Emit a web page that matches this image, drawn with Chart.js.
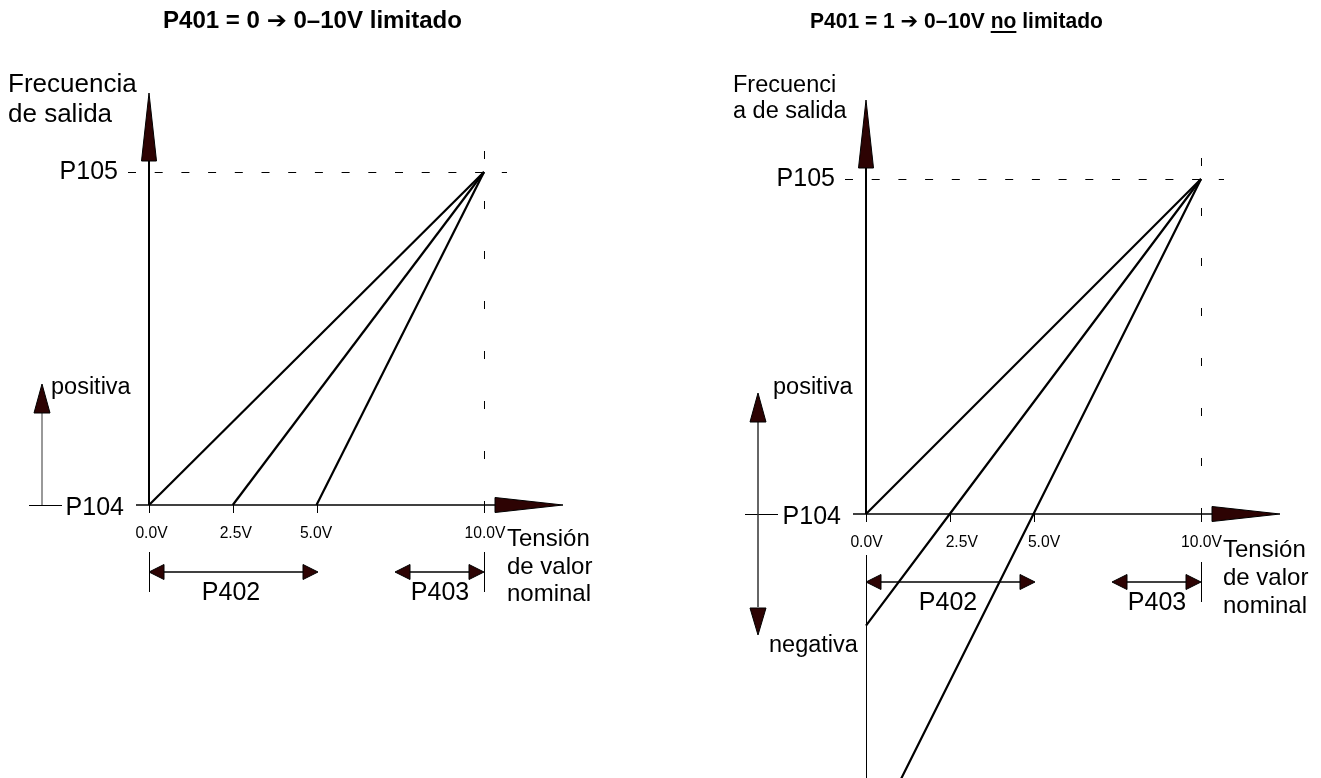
<!DOCTYPE html>
<html>
<head>
<meta charset="utf-8">
<title>P401 – curvas de consigna 0–10V</title>
<script src="https://cdn.jsdelivr.net/npm/chart.js@4.4.1/dist/chart.umd.min.js"></script>
<style>
  html, body { margin: 0; padding: 0; background: #fff; }
  #wrap { position: relative; width: 1321px; height: 778px; overflow: hidden; background: #fff; }
  canvas { position: absolute; top: 0; }
  #left { left: 0; }
  #right { left: 660px; }
</style>
</head>
<body>
<div id="wrap">
  <canvas id="left" width="660" height="778"></canvas>
  <canvas id="right" width="661" height="778"></canvas>
</div>
<script>
// ---- values ---------------------------------------------------------------
// Set-point voltage ticks (V) and their captions
const tickVolts = [0, 2.5, 5, 10];
const tickLabels = ['0.0V', '2.5V', '5.0V', '10.0V'];

// Output frequency levels (% of the P104 → P105 span) and their names
const freqLevels = [0, 100];
const freqLabels = ['P104', 'P105'];

// P401 = 0: offset curves clamped at P104
const limitedZero    = [{ x: 0,   y: 0 }, { x: 10, y: 100 }];
const limitedQuarter = [{ x: 2.5, y: 0 }, { x: 10, y: 100 }];
const limitedHalf    = [{ x: 5,   y: 0 }, { x: 10, y: 100 }];

// P401 = 1: the same curves continue below P104 (negative direction)
const unlimitedZero    = [{ x: 0, y: 0 },     { x: 10, y: 100 }];
const unlimitedQuarter = [{ x: 0, y: -33.3 }, { x: 2.5, y: 0 }, { x: 10, y: 100 }];
const unlimitedHalf    = [{ x: 0, y: -100 },  { x: 5, y: 0 },   { x: 10, y: 100 }];

// Text
const titleLimited   = ['P401 = 0 \u2794 0\u201310V limitado'];
const titleUnlimited = ['P401 = 1 \u2794 0\u201310V ', 'no', ' limitado'];
const freqAxisLimited   = ['Frecuencia', 'de salida'];
const freqAxisUnlimited = ['Frecuenci', 'a de salida'];
const voltAxisLines = ['Tensi\u00f3n', 'de valor', 'nominal'];
const offsetName = 'P402';
const gainName = 'P403';

// ---- drawing helpers ------------------------------------------------------
const FONT = "'Liberation Sans', Arial, Helvetica, 'DejaVu Sans', sans-serif";
const HEAD_FILL = '#2d0303';

function seg(ctx, x1, y1, x2, y2, w, color, dash) {
  ctx.save();
  ctx.beginPath();
  ctx.setLineDash(dash || []);
  ctx.lineWidth = w;
  ctx.strokeStyle = color || '#000';
  ctx.moveTo(x1, y1);
  ctx.lineTo(x2, y2);
  ctx.stroke();
  ctx.restore();
}

function head(ctx, tipX, tipY, baseX, baseY, halfW) {
  const dx = tipX - baseX, dy = tipY - baseY;
  const len = Math.hypot(dx, dy);
  const nx = -dy / len, ny = dx / len;
  ctx.save();
  ctx.beginPath();
  ctx.moveTo(tipX, tipY);
  ctx.lineTo(baseX + nx * halfW, baseY + ny * halfW);
  ctx.lineTo(baseX - nx * halfW, baseY - ny * halfW);
  ctx.closePath();
  ctx.fillStyle = HEAD_FILL;
  ctx.fill();
  ctx.lineWidth = 1;
  ctx.strokeStyle = '#000';
  ctx.stroke();
  ctx.restore();
}

function text(ctx, str, x, y, size, align, bold) {
  ctx.save();
  ctx.font = (bold ? 'bold ' : '') + size + 'px ' + FONT;
  ctx.fillStyle = '#000';
  ctx.textAlign = align || 'left';
  ctx.textBaseline = 'alphabetic';
  ctx.fillText(str, x, y);
  ctx.restore();
}

// Horizontal double-headed dimension arrow
function span(ctx, xa, xb, y) {
  seg(ctx, xa + 14, y, xb - 14, y, 1.5);
  head(ctx, xa, y, xa + 15, y, 7.5);
  head(ctx, xb, y, xb - 15, y, 7.5);
}

// Pick axis bounds so that two values land on two given pixels
function boundsX(p0, p10, width) {
  const k = (p10 - p0) / (tickVolts[3] - tickVolts[0]);
  const min = tickVolts[0] - p0 / k;
  return { min, max: min + width / k };
}
function boundsY(p0, p100, height) {
  const k = (p0 - p100) / (freqLevels[1] - freqLevels[0]);
  const max = freqLevels[0] + p0 / k;
  return { min: max - height / k, max };
}

// ---- the diagram layer drawn around the data lines -------------------------
function diagramLayer(cfg) {
  return {
    id: 'diagram',
    beforeDatasetsDraw(chart) {
      const ctx = chart.ctx, xs = chart.scales.x, ys = chart.scales.y;
      const X0 = xs.getPixelForValue(tickVolts[0]);
      const X10 = xs.getPixelForValue(tickVolts[3]);
      const Y0 = ys.getPixelForValue(freqLevels[0]);
      const Y100 = ys.getPixelForValue(freqLevels[1]);

      // P105 and 10V guide lines
      seg(ctx, X0 - 21, Y100 + 0.5, X10 + 23, Y100 + 0.5, 1, '#000', [8, 18.7]);
      seg(ctx, X10 + 0.5, Y100 - 21, X10 + 0.5, Y0 + 25, 1, '#000', [8, 42]);

      // frequency axis
      seg(ctx, X0, Y0, X0, Y100 - 11, 2);
      head(ctx, X0, Y100 - 79, X0, Y100 - 11, 7.5);
      // voltage axis
      seg(ctx, X0 - 13, Y0, X10 + 11, Y0, 1.5);
      head(ctx, X10 + 79, Y0, X10 + 11, Y0, 7.5);

      // ticks
      tickVolts.forEach(v => {
        const px = Math.round(xs.getPixelForValue(v)) + 0.5;
        seg(ctx, px, Y0, px, Y0 + 8, 1);
      });
    },
    afterDatasetsDraw(chart) {
      const ctx = chart.ctx, xs = chart.scales.x, ys = chart.scales.y;
      const X0 = xs.getPixelForValue(tickVolts[0]);
      const X10 = xs.getPixelForValue(tickVolts[3]);
      const Y0 = ys.getPixelForValue(freqLevels[0]);
      const Y100 = ys.getPixelForValue(freqLevels[1]);
      const H = chart.height;

      // title: fitted to its set width, half by size and half by squeeze
      ctx.save();
      ctx.font = 'bold 22px ' + FONT;
      const parts = cfg.title;
      const natural = parts.reduce((a, p) => a + ctx.measureText(p).width, 0);
      const k = Math.sqrt(cfg.titleWidth / natural);
      const size = 22 * k;
      ctx.font = 'bold ' + size + 'px ' + FONT;
      const widths = parts.map(p => ctx.measureText(p).width);
      ctx.translate(cfg.titleX - cfg.titleWidth / 2, 0);
      ctx.scale(k, 1);
      let tx = 0;
      parts.forEach((p, i) => {
        text(ctx, p, tx, 28, size, 'left', true);
        if (i === cfg.underline) seg(ctx, tx, 32, tx + widths[i], 32, 2);
        tx += widths[i];
      });
      ctx.restore();

      // frequency axis caption
      cfg.freqAxis.forEach((s, i) => text(ctx, s, X0 + cfg.freqAxisDx, cfg.freqAxisY[i], cfg.freqAxisSize, 'left'));

      // level names
      text(ctx, freqLabels[1], X0 - 31, Y100 + 7, 25, 'right');
      text(ctx, freqLabels[0], X0 - 25, Y0 + 9.5, 25, 'right');

      // tick captions
      tickLabels.forEach((s, i) => {
        ctx.save();
        ctx.font = '16.5px ' + FONT;
        ctx.textAlign = 'center';
        ctx.fillStyle = '#000';
        ctx.translate(xs.getPixelForValue(tickVolts[i]) + cfg.tickDx[i], Y0 + 33);
        ctx.scale(0.95, 1);
        ctx.fillText(s, 0, 0);
        ctx.restore();
      });

      // voltage axis caption
      voltAxisLines.forEach((s, i) => text(ctx, s, X10 + cfg.voltAxisDx, Y0 + cfg.voltAxisDy + i * cfg.voltAxisLh, 24, 'left'));

      // sign of the output
      const ax = X0 + cfg.signDx;
      seg(ctx, X0 + cfg.levelLine[0], Y0 + 0.5, X0 + cfg.levelLine[1], Y0 + 0.5, 1);
      text(ctx, 'positiva', X0 + cfg.posDx, cfg.posY, 23.5, 'left');
      if (cfg.negY) {
        seg(ctx, ax, cfg.signTop + 28, ax, cfg.signBottom - 28, 1.5, '#333');
        head(ctx, ax, cfg.signTop, ax, cfg.signTop + 29, 8);
        head(ctx, ax, cfg.signBottom, ax, cfg.signBottom - 27, 8);
        text(ctx, 'negativa', X0 + cfg.negDx, cfg.negY, 23.5, 'left');
      } else {
        seg(ctx, ax, cfg.signTop + 28, ax, Y0, 1.5, '#777');
        head(ctx, ax, cfg.signTop, ax, cfg.signTop + 29, 8);
      }

      // P402 / P403 dimensions
      const ay = Y0 + cfg.spanDy;
      const x0l = Math.round(X0) + 0.5, x10l = Math.round(X10) + 0.5;
      seg(ctx, x0l, Y0 + cfg.bound0[0], x0l, cfg.bound0[1] ? Y0 + cfg.bound0[1] : H, 1);
      seg(ctx, x10l, Y0 + cfg.bound10[0], x10l, Y0 + cfg.bound10[1], 1);
      span(ctx, X0, X0 + 169, ay);
      span(ctx, X10 - 89, X10, ay);
      text(ctx, offsetName, X0 + 82, Y0 + cfg.nameDy, 25, 'center');
      text(ctx, gainName, X10 - 44, Y0 + cfg.nameDy, 25, 'center');
    }
  };
}

function makeChart(id, cfg, series) {
  const canvas = document.getElementById(id);
  const bx = boundsX(cfg.x0, cfg.x10, canvas.width);
  const by = boundsY(cfg.y0, cfg.y100, canvas.height);
  return new Chart(canvas, {
    type: 'line',
    data: {
      datasets: series.map(pts => ({
        data: pts,
        borderColor: '#000',
        borderWidth: 2.2,
        pointRadius: 0,
        fill: false,
        tension: 0
      }))
    },
    options: {
      responsive: false,
      animation: false,
      devicePixelRatio: 1,
      layout: { padding: 0 },
      scales: {
        x: { type: 'linear', min: bx.min, max: bx.max, display: false },
        y: { type: 'linear', min: by.min, max: by.max, display: false }
      },
      plugins: { legend: { display: false }, tooltip: { enabled: false }, title: { display: false } },
      events: []
    },
    plugins: [diagramLayer(cfg)]
  });
}

makeChart('left', {
  x0: 149, x10: 484, y0: 505, y100: 172,
  title: titleLimited, underline: -1, titleX: 312.5, titleWidth: 299,
  freqAxis: freqAxisLimited, freqAxisDx: -141, freqAxisY: [92, 122], freqAxisSize: 26,
  tickDx: [2.5, 3, -0.5, 1],
  voltAxisDx: 23, voltAxisDy: 41, voltAxisLh: 27.5,
  levelLine: [-120, -87],
  signDx: -107, signTop: 384,
  posDx: -98, posY: 394,
  bound0: [47, 87], bound10: [47, 87],
  spanDy: 67, nameDy: 95
}, [limitedZero, limitedQuarter, limitedHalf]);

makeChart('right', {
  x0: 206, x10: 541, y0: 514, y100: 179,
  title: titleUnlimited, underline: 1, titleX: 296.5, titleWidth: 293,
  freqAxis: freqAxisUnlimited, freqAxisDx: -133, freqAxisY: [92, 118], freqAxisSize: 23.5,
  tickDx: [0.5, 12, 10.5, 0.5],
  voltAxisDx: 22, voltAxisDy: 43, voltAxisLh: 28,
  levelLine: [-121, -88],
  signDx: -108, signTop: 393, signBottom: 635,
  posDx: -93, posY: 394,
  negDx: -97, negY: 652,
  bound0: [41, 0], bound10: [48, 88],
  spanDy: 68, nameDy: 96
}, [unlimitedZero, unlimitedQuarter, unlimitedHalf]);
</script>
</body>
</html>
